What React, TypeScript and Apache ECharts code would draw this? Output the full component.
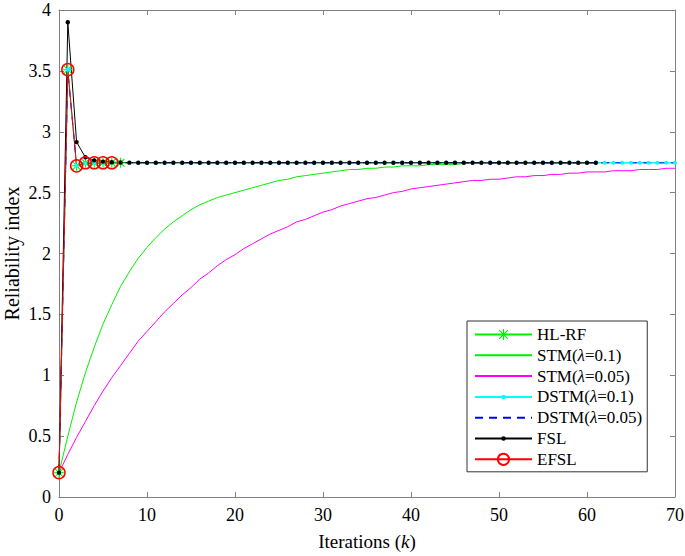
import React, { useEffect, useRef } from "react";
import * as echarts from "echarts";

// Reliability index per iteration k (index = k)
const hlrf = [0.2, 3.51, 2.72, 2.745, 2.745, 2.745, 2.745, 2.745];
const stm01 = [
  0.2, 0.5, 0.78, 1.02, 1.23, 1.42, 1.58, 1.73, 1.85, 1.96,
  2.05, 2.13, 2.2, 2.26, 2.31, 2.36, 2.4, 2.43, 2.46, 2.48,
  2.5, 2.52, 2.54, 2.56, 2.58, 2.6, 2.61, 2.63, 2.64, 2.65,
  2.66, 2.67, 2.68, 2.69, 2.69, 2.7, 2.7, 2.71, 2.71, 2.72,
  2.72, 2.72, 2.73, 2.73, 2.73, 2.73, 2.74, 2.74, 2.74, 2.74,
  2.74, 2.74, 2.74, 2.74, 2.74, 2.74, 2.74, 2.74, 2.74, 2.74,
  2.74, 2.745, 2.745, 2.745, 2.745, 2.745, 2.745, 2.745, 2.745, 2.745,
  2.745,
];
const stm005 = [
  0.2, 0.35, 0.49, 0.62, 0.75, 0.87, 0.98, 1.08, 1.18, 1.28,
  1.36, 1.44, 1.52, 1.59, 1.66, 1.72, 1.79, 1.84, 1.9, 1.95,
  1.99, 2.04, 2.08, 2.12, 2.16, 2.19, 2.22, 2.26, 2.28, 2.31,
  2.34, 2.36, 2.39, 2.41, 2.43, 2.45, 2.46, 2.48, 2.5, 2.51,
  2.53, 2.54, 2.55, 2.56, 2.57, 2.58, 2.59, 2.6, 2.6, 2.61,
  2.61, 2.62, 2.63, 2.63, 2.64, 2.64, 2.65, 2.65, 2.66, 2.66,
  2.67, 2.67, 2.67, 2.68, 2.68, 2.68, 2.69, 2.69, 2.69, 2.7,
  2.7,
];
const dstm01 = [
  0.2, 3.51, 2.72, 2.74, 2.745, 2.745, 2.745, 2.745, 2.745, 2.745,
  2.745, 2.745, 2.745, 2.745, 2.745, 2.745, 2.745, 2.745, 2.745, 2.745,
  2.745, 2.745, 2.745, 2.745, 2.745, 2.745, 2.745, 2.745, 2.745, 2.745,
  2.745, 2.745, 2.745, 2.745, 2.745, 2.745, 2.745, 2.745, 2.745, 2.745,
  2.745, 2.745, 2.745, 2.745, 2.745, 2.745, 2.745, 2.745, 2.745, 2.745,
  2.745, 2.745, 2.745, 2.745, 2.745, 2.745, 2.745, 2.745, 2.745, 2.745,
  2.745, 2.745, 2.745, 2.745, 2.745, 2.745, 2.745, 2.745, 2.745, 2.745,
  2.745,
];
const dstm005 = [
  0.2, 3.5, 2.72, 2.735, 2.743, 2.745, 2.745, 2.745, 2.745, 2.745,
  2.745, 2.745, 2.745, 2.745, 2.745, 2.745, 2.745, 2.745, 2.745, 2.745,
  2.745, 2.745, 2.745, 2.745, 2.745, 2.745, 2.745, 2.745, 2.745, 2.745,
  2.745, 2.745, 2.745, 2.745, 2.745, 2.745, 2.745, 2.745, 2.745, 2.745,
  2.745, 2.745, 2.745, 2.745, 2.745, 2.745, 2.745, 2.745, 2.745, 2.745,
  2.745, 2.745, 2.745, 2.745, 2.745, 2.745, 2.745, 2.745, 2.745, 2.745,
  2.745, 2.745, 2.745, 2.745, 2.745, 2.745, 2.745, 2.745, 2.745, 2.745,
  2.745,
];
const fsl = [
  0.2, 3.9, 2.915, 2.79, 2.765, 2.755, 2.75, 2.748, 2.746, 2.745,
  2.745, 2.745, 2.745, 2.745, 2.745, 2.745, 2.745, 2.745, 2.745, 2.745,
  2.745, 2.745, 2.745, 2.745, 2.745, 2.745, 2.745, 2.745, 2.745, 2.745,
  2.745, 2.745, 2.745, 2.745, 2.745, 2.745, 2.745, 2.745, 2.745, 2.745,
  2.745, 2.745, 2.745, 2.745, 2.745, 2.745, 2.745, 2.745, 2.745, 2.745,
  2.745, 2.745, 2.745, 2.745, 2.745, 2.745, 2.745, 2.745, 2.745, 2.745,
  2.745, 2.745,
];
const efsl = [0.2, 3.51, 2.72, 2.745, 2.745, 2.745, 2.745];

const seriesNames = ["HL-RF", "STM(λ=0.1)", "STM(λ=0.05)", "DSTM(λ=0.1)", "DSTM(λ=0.05)", "FSL", "EFSL"];

const xTicks = { min: 0, max: 70, interval: 10 };
const yTicks = { min: 0, max: 4, interval: 0.5 };

const FONT = "'Liberation Serif', 'Times New Roman', serif";
const AXIS_COLOR = "#808080";
const ASTERISK =
  "path://M4.5,0L5.5,0L5.5,10L4.5,10Z M0,4.5L10,4.5L10,5.5L0,5.5Z M0.8,1.5L1.5,0.8L9.2,8.5L8.5,9.2Z M8.5,0.8L9.2,1.5L1.5,9.2L0.8,8.5Z";
// small dot centred in a 10x10 box (so the legend icon stays small)
const DOT =
  "path://M0,0L0,0 M10,10L10,10 M3,5A2,2 0 1,0 7,5A2,2 0 1,0 3,5Z";

const pairs = (arr: number[]) => arr.map((v, i) => [i, v]);

export default function App() {
  const ref = useRef<HTMLDivElement>(null);
  useEffect(() => {
    if (!ref.current) return;
    const chart = echarts.init(ref.current, undefined, { renderer: "svg" });
    const axisCommon = {
      type: "value",
      axisLine: { show: true, onZero: false, lineStyle: { color: AXIS_COLOR, width: 1 } },
      axisTick: { show: true, inside: true, length: 5, lineStyle: { color: AXIS_COLOR } },
      splitLine: { show: false },
    };
    const labelStyle = { fontFamily: FONT, fontSize: 18, color: "#000" };
    const rich = {
      n: { fontFamily: FONT, fontSize: 17, color: "#000" },
      i: { fontFamily: FONT, fontSize: 17, color: "#000", fontStyle: "italic" },
    };
    const legendNames: Record<string, string> = {
      "HL-RF": "{n|HL-RF}",
      "STM(λ=0.1)": "{n|STM(}{i|λ}{n|=0.1)}",
      "STM(λ=0.05)": "{n|STM(}{i|λ}{n|=0.05)}",
      "DSTM(λ=0.1)": "{n|DSTM(}{i|λ}{n|=0.1)}",
      "DSTM(λ=0.05)": "{n|DSTM(}{i|λ}{n|=0.05)}",
      FSL: "{n|FSL}",
      EFSL: "{n|EFSL}",
    };
    chart.setOption({
      animation: false,
      backgroundColor: "#fff",
      grid: {
        left: 59,
        right: 10,
        top: 10,
        bottom: 59,
        containLabel: false,
        outerBoundsMode: "none",
      },
      xAxis: [
        {
          ...axisCommon,
          ...xTicks,
          position: "bottom",
          axisLabel: { ...labelStyle, margin: 9 },
          name: "Iterations ({i|k})",
          nameLocation: "middle",
          nameGap: 35,
          nameMoveOverlap: false,
          nameTextStyle: {
            fontFamily: FONT,
            fontSize: 19,
            color: "#000",
            rich: {
              i: { fontFamily: FONT, fontSize: 19, color: "#000", fontStyle: "italic" },
            },
          },
        },
        {
          ...axisCommon,
          ...xTicks,
          position: "top",
          axisLabel: { show: false },
        },
      ],
      yAxis: [
        {
          ...axisCommon,
          ...yTicks,
          position: "left",
          axisLabel: { ...labelStyle, margin: 8 },
          name: "Reliability index",
          nameLocation: "middle",
          nameGap: 37,
          nameRotate: 90,
          nameMoveOverlap: false,
          nameTextStyle: { fontFamily: FONT, fontSize: 20, color: "#000" },
        },
        {
          ...axisCommon,
          ...yTicks,
          position: "right",
          axisLabel: { show: false },
        },
      ],
      legend: {
        orient: "vertical",
        left: 467,
        top: 321,
        selectedMode: false,
        backgroundColor: "#fff",
        borderColor: "#333",
        borderWidth: 1,
        padding: [5, 5, 4, 7],
        itemWidth: 57,
        itemHeight: 14,
        itemGap: 3.8,
        textStyle: { fontFamily: FONT, fontSize: 17, color: "#000", lineHeight: 17, rich },
        formatter: (name: string) => legendNames[name] || name,
        data: seriesNames,
      },
      series: [
        {
          name: seriesNames[0],
          type: "line",
          data: pairs(hlrf),
          symbol: ASTERISK,
          symbolSize: 10,
          showAllSymbol: true,
          itemStyle: { color: "#00ee00" },
          lineStyle: { color: "#00ee00", width: 1 },
        },
        {
          name: seriesNames[1],
          type: "line",
          data: pairs(stm01),
          symbol: "none",
          itemStyle: { color: "#00ee00", opacity: 0 },
          lineStyle: { color: "#00ee00", width: 1 },
        },
        {
          name: seriesNames[2],
          type: "line",
          data: pairs(stm005),
          symbol: "none",
          itemStyle: { color: "#ff00ff", opacity: 0 },
          lineStyle: { color: "#ff00ff", width: 1 },
        },
        {
          name: seriesNames[3],
          type: "line",
          data: pairs(dstm01),
          symbol: DOT,
          symbolSize: 10,
          showAllSymbol: true,
          itemStyle: { color: "#00ffff" },
          lineStyle: { color: "#00ffff", width: 1 },
        },
        {
          name: seriesNames[4],
          type: "line",
          data: pairs(dstm005),
          symbol: "none",
          itemStyle: { color: "#0000ff", opacity: 0 },
          lineStyle: { color: "#0000ff", width: 1, type: [8, 6] },
        },
        {
          name: seriesNames[5],
          type: "line",
          data: pairs(fsl),
          symbol: DOT,
          symbolSize: 11,
          showAllSymbol: true,
          itemStyle: { color: "#000" },
          lineStyle: { color: "#000", width: 1 },
        },
        {
          name: seriesNames[6],
          type: "line",
          data: pairs(efsl),
          symbol: "circle",
          symbolSize: 12,
          showAllSymbol: true,
          itemStyle: { color: "rgba(0,0,0,0)", borderColor: "#ff0000", borderWidth: 1.5 },
          lineStyle: { color: "#ff0000", width: 1 },
        },
      ],
    });
    return () => chart.dispose();
  }, []);
  return (
    <div
      ref={ref}
      style={{ position: "absolute", left: 0, top: 0, width: 685, height: 556 }}
    />
  );
}
